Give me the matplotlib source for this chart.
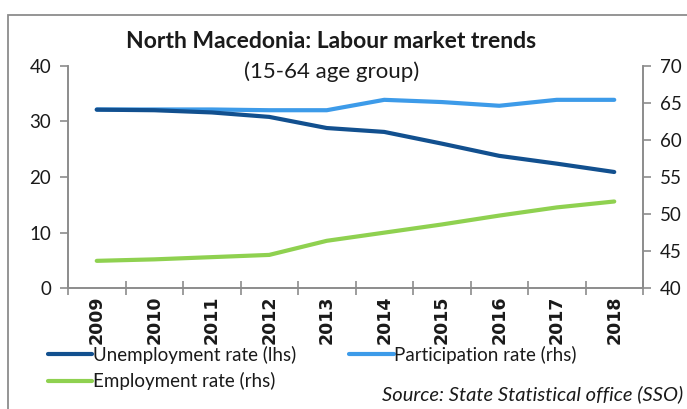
import matplotlib
matplotlib.use("Agg")
import matplotlib.pyplot as plt
from matplotlib.patches import Rectangle
import numpy as np

plt.rcParams["font.family"] = ["Lato", "DejaVu Sans"]

# ---------------------------------------------------------------------------
# Data
# ---------------------------------------------------------------------------
years = ["2009", "2010", "2011", "2012", "2013", "2014", "2015", "2016", "2017", "2018"]
unemployment = [32.1, 32.0, 31.6, 30.8, 28.8, 28.1, 26.0, 23.8, 22.4, 20.9]   # lhs
participation = [64.1, 64.1, 64.1, 64.0, 64.0, 65.4, 65.1, 64.6, 65.4, 65.4]  # rhs
employment = [43.7, 43.9, 44.2, 44.5, 46.4, 47.5, 48.6, 49.8, 50.9, 51.7]     # rhs

UNEMP_COLOR = "#12508f"
PART_COLOR = "#3d9be9"
EMP_COLOR = "#8fd150"
AXIS_COLOR = "#8c8c8c"
TEXT_COLOR = "#1a1a1a"

W, H = 687, 409
fig = plt.figure(figsize=(W / 100, H / 100), dpi=100)

# outer border (cropped at right/bottom like the screenshot)
fig.patches.append(Rectangle((8 / W, -0.05), 1.05, 1 - 15 / H + 0.05,
                             transform=fig.transFigure, fill=False,
                             edgecolor=AXIS_COLOR, linewidth=1.3))

ax = fig.add_axes([68 / W, 1 - 288.3 / H, (643 - 68) / W, (288.3 - 65.7) / H])
ax2 = ax.twinx()

x = np.arange(len(years))
l1, = ax.plot(x, unemployment, color=UNEMP_COLOR, lw=3.0,
              solid_capstyle="round", label="Unemployment rate (lhs)", zorder=3)
l2, = ax2.plot(x, participation, color=PART_COLOR, lw=3.0,
               solid_capstyle="round", label="Participation rate (rhs)")
l3, = ax2.plot(x, employment, color=EMP_COLOR, lw=3.0,
               solid_capstyle="round", label="Employment rate (rhs)")
ax.set_zorder(ax2.get_zorder() + 1)
ax.patch.set_visible(False)

ax.set_xlim(-0.5, len(years) - 0.5)
ax.set_ylim(0, 40)
ax.set_yticks([0, 10, 20, 30, 40])
ax2.set_ylim(40, 70)
ax2.set_yticks([40, 45, 50, 55, 60, 65, 70])

ax.set_xticks(x)
ax.set_xticklabels(years, rotation=90, fontweight="bold", fontsize=12.5,
                   family=["DejaVu Sans"], color=TEXT_COLOR)
ax.set_xticks(np.arange(-0.5, len(years)), minor=True)
ax.tick_params(axis="x", which="major", length=0, pad=5)
ax.tick_params(axis="x", which="minor", direction="inout", length=10,
               color=AXIS_COLOR, width=1.2)

for a in (ax, ax2):
    a.spines["top"].set_visible(False)
    for s in ("left", "right", "bottom"):
        a.spines[s].set_color(AXIS_COLOR)
        a.spines[s].set_linewidth(1.2)
    a.tick_params(axis="y", direction="out", length=6, width=1.2,
                  color=AXIS_COLOR, labelsize=13.5, labelcolor=TEXT_COLOR, pad=6)

fig.text(331 / W, 1 - 42 / H, "North Macedonia: Labour market trends",
         ha="center", va="center", fontsize=16.5, fontweight="bold",
         color=TEXT_COLOR)
fig.text(332 / W, 1 - 72 / H, "(15-64 age group)", ha="center", va="center",
         fontsize=16, color=TEXT_COLOR)

fig.legend(handles=[l1, l3, l2], ncol=2, loc="upper left",
           bbox_to_anchor=(44 / W, 1 - 342 / H), frameon=False,
           fontsize=13.5, handlelength=2.35, handletextpad=0.05,
           columnspacing=2.85, labelspacing=0.45, borderaxespad=0,
           borderpad=0.2, labelcolor=TEXT_COLOR)

fig.text(683 / W, 1 - 394 / H, "Source: State Statistical office (SSO)",
         ha="right", va="center", fontsize=14.5, style="italic",
         color=TEXT_COLOR)

fig.savefig("out.png", dpi=100)
